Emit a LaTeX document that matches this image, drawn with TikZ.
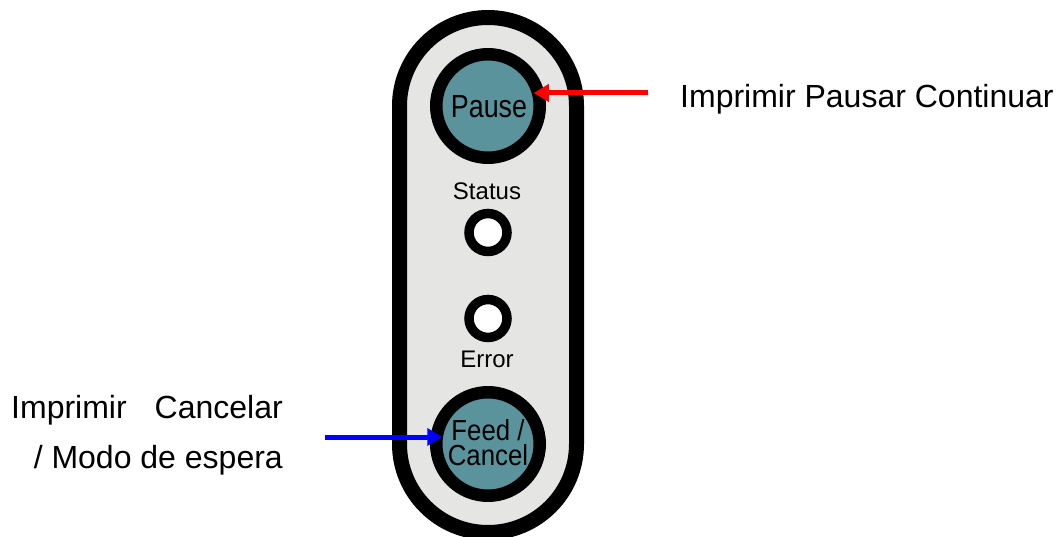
\documentclass[tikz,border=0pt]{standalone}
\usepackage{fontspec}
\setmainfont{Liberation Sans}
\usetikzlibrary{arrows.meta}
\definecolor{panelgray}{HTML}{E5E5E4}
\definecolor{btnteal}{HTML}{5B939D}
\definecolor{arrred}{HTML}{FF0000}
\definecolor{arrblue}{HTML}{0000FF}
\begin{document}
\begin{tikzpicture}[x=1pt,y=-1pt,
  bigbtn/.style={circle,draw=black,fill=btnteal,line width=12.5pt,minimum size=103.5pt,inner sep=0pt,outer sep=0pt},
  led/.style={circle,draw=black,fill=white,line width=9.5pt,minimum size=38pt,inner sep=0pt,outer sep=0pt},
  lbl/.style={font=\fontsize{32}{38}\selectfont,inner sep=0pt,anchor=base west},
  panellbl/.style={font=\fontsize{24}{28}\selectfont,inner sep=0pt,anchor=base},
  callout/.style={line width=5pt,-{Triangle[length=15pt,width=17pt]}}]
\useasboundingbox (0,0) rectangle (1058,537);
\fill[white] (0,0) rectangle (1058,537);
% panel
\begin{scope}
\clip (0,0) rectangle (1058,537);
\draw[line width=15pt,fill=panelgray,rounded corners=88.5pt] (399.5,17.5) rectangle (576.5,532.5);
\end{scope}
% buttons
\node[bigbtn] (pause) at (488,106) {};
\node[inner sep=0pt,anchor=base,font=\fontsize{32}{38}\selectfont,xscale=0.84] (pausetxt) at (489,118) {Pause};
\node[bigbtn] (feed) at (488,444) {};
\node[inner sep=0pt,anchor=base,align=center,font=\fontsize{29}{25}\selectfont,xscale=0.89] (feedtxt) at (488,465) {Feed /\\Cancel};
% LEDs
\node[panellbl] (statustxt) at (487,200) {Status};
\node[led] (status) at (488,232.5) {};
\node[led] (error) at (488,318.5) {};
\node[panellbl] (errortxt) at (487,367) {Error};
% callouts
\node[lbl] (pausecap) at (680,108) {Imprimir Pausar Continuar};
\node[inner sep=0pt,anchor=base east,font=\fontsize{32}{38}\selectfont] (feedcap1) at (283,418) {Imprimir\hspace{28pt}Cancelar};
\node[inner sep=0pt,anchor=base east,font=\fontsize{32}{38}\selectfont] (feedcap2) at (283,468) {/ Modo de espera};
\coordinate (rs) at (648,93);
\coordinate (bs) at (325,437);
\draw[callout,draw=arrred,fill=arrred] (rs) -- ([xshift=-6pt]rs -| pause.east);
\draw[callout,draw=arrblue,fill=arrblue] (bs) -- ([xshift=6pt]bs -| feed.west);
\end{tikzpicture}
\end{document}
